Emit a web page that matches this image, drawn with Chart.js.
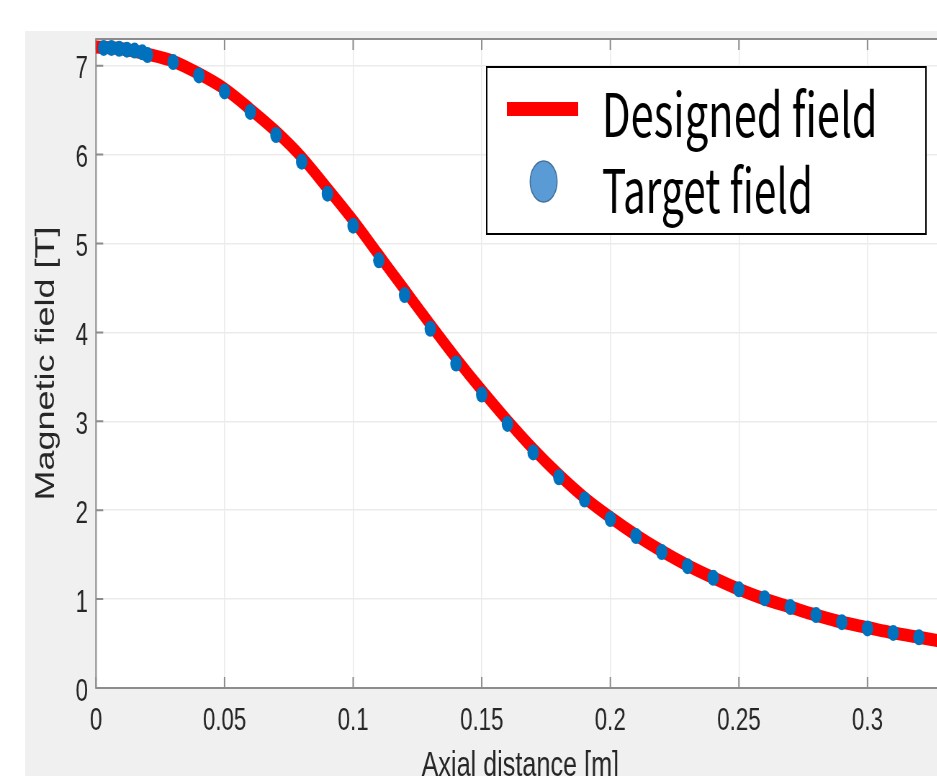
<!DOCTYPE html>
<html>
<head>
<meta charset="utf-8">
<script src="https://cdn.jsdelivr.net/npm/chart.js@4.4.1/dist/chart.umd.min.js"></script>
<style>
  html, body { margin: 0; padding: 0; background: #fff; overflow: hidden; width: 937px; height: 776px; }
  /* the reference figure is squeezed sideways, so the whole canvas is too */
  #wrap { position: absolute; left: 0; top: 0; transform: scaleX(0.72); transform-origin: 0 0; }
  canvas { display: block; }
</style>
</head>
<body>
<div id="wrap"><canvas id="myChart" width="1320" height="800"></canvas></div>
<script>
// designed field (red line)
const designedX = [0, 0.01, 0.02, 0.03, 0.04, 0.05, 0.06, 0.07, 0.08, 0.09, 0.1, 0.11, 0.12, 0.13, 0.14, 0.15, 0.16,
  0.17, 0.18, 0.19, 0.2, 0.21, 0.22, 0.23, 0.24, 0.25, 0.26, 0.27, 0.28, 0.29, 0.3, 0.31, 0.32, 0.33];
const designedB = [7.21, 7.19, 7.13, 7.05, 6.91, 6.74, 6.51, 6.26, 5.97, 5.62, 5.26, 4.87, 4.48, 4.09, 3.71, 3.35, 3.01,
  2.69, 2.40, 2.14, 1.92, 1.72, 1.54, 1.38, 1.24, 1.11, 1.00, 0.91, 0.82, 0.74, 0.68, 0.62, 0.57, 0.52];

// target field (blue markers)
const targetX = [0.003, 0.006, 0.009, 0.012, 0.015, 0.018, 0.02, 0.03, 0.04, 0.05, 0.06, 0.07, 0.08, 0.09, 0.1, 0.11,
  0.12, 0.13, 0.14, 0.15, 0.16, 0.17, 0.18, 0.19, 0.2, 0.21, 0.22, 0.23, 0.24, 0.25, 0.26, 0.27, 0.28, 0.29, 0.3, 0.31, 0.32];
const targetB = [7.20, 7.20, 7.19, 7.18, 7.17, 7.15, 7.12, 7.04, 6.89, 6.71, 6.48, 6.22, 5.92, 5.56, 5.20, 4.81,
  4.42, 4.04, 3.65, 3.30, 2.97, 2.65, 2.37, 2.12, 1.90, 1.71, 1.53, 1.37, 1.24, 1.11, 1.01, 0.91, 0.82, 0.74, 0.67, 0.62, 0.57];

const xTicks = [0, 0.05, 0.1, 0.15, 0.2, 0.25, 0.3];
const xTickLabels = ["0", "0.05", "0.1", "0.15", "0.2", "0.25", "0.3"];
const yTicks = [0, 1, 2, 3, 4, 5, 6, 7];
const yTickLabels = ["0", "1", "2", "3", "4", "5", "6", "7"];

const FONT = "'Liberation Sans', Arial, sans-serif";
const TXT = "#262626";

// grey figure background + white axes, like matlab
const framePlugin = {
  id: "frame",
  beforeDraw(chart) {
    const { ctx, chartArea: a, width, height } = chart;
    ctx.save();
    ctx.fillStyle = "#ffffff";
    ctx.fillRect(0, 0, width, height);
    ctx.fillStyle = "#f0f0f0";
    ctx.fillRect(35, 31, width - 35, height - 31);
    ctx.fillStyle = "#ffffff";
    ctx.fillRect(a.left, a.top, a.right - a.left, a.bottom - a.top);
    ctx.restore();
  },
  beforeDatasetsDraw(chart) {
    const { ctx, chartArea: a, scales } = chart;
    ctx.save();
    ctx.strokeStyle = "#8c8c8c";
    ctx.lineWidth = 2;
    ctx.strokeRect(a.left, a.top, a.right - a.left, a.bottom - a.top);
    // inward ticks
    ctx.beginPath();
    xTicks.forEach((v) => {
      const px = scales.x.getPixelForValue(v);
      ctx.moveTo(px, a.bottom); ctx.lineTo(px, a.bottom - 11);
      ctx.moveTo(px, a.top); ctx.lineTo(px, a.top + 11);
    });
    yTicks.forEach((v) => {
      const py = scales.y.getPixelForValue(v);
      ctx.moveTo(a.left, py); ctx.lineTo(a.left + 10, py);
    });
    ctx.stroke();
    ctx.restore();
  },
};

// boxed legend inside the axes
const boxLegend = {
  id: "boxLegend",
  afterDraw(chart) {
    const ctx = chart.ctx;
    const line = chart.data.datasets[1];
    const pts = chart.data.datasets[0];
    ctx.save();
    ctx.fillStyle = "#ffffff";
    ctx.fillRect(676, 67, 610, 167);
    ctx.strokeStyle = "#000000";
    ctx.lineWidth = 2;
    ctx.strokeRect(676, 67, 610, 167);
    ctx.fillStyle = "#ff0000";
    ctx.fillRect(704, 102, 99, 14);
    ctx.beginPath();
    ctx.ellipse(755, 181.5, 18.7, 20.5, 0, 0, Math.PI * 2);
    ctx.fillStyle = "#5b9bd5";
    ctx.fill();
    ctx.strokeStyle = "#41719c";
    ctx.lineWidth = 1.5;
    ctx.stroke();
    ctx.fillStyle = "#000000";
    ctx.font = "60px 'Noto Sans CJK KR', 'Noto Sans', sans-serif";
    ctx.textBaseline = "alphabetic";
    ctx.fillText(line.label, 836, 137, 383);
    ctx.fillText(pts.label, 836, 213, 293);
    ctx.restore();
  },
};

new Chart(document.getElementById("myChart"), {
  type: "scatter",
  data: {
    datasets: [
      {
        label: "Target field",
        data: targetX.map((x, i) => ({ x: x, y: targetB[i] })),
        showLine: false,
        pointRadius: 8,
        pointHoverRadius: 8,
        pointBorderWidth: 0,
        backgroundColor: "#0072bd",
        order: 0,
      },
      {
        label: "Designed field",
        data: designedX.map((x, i) => ({ x: x, y: designedB[i] })),
        showLine: true,
        borderColor: "#ff0000",
        borderWidth: 13,
        pointRadius: 0,
        cubicInterpolationMode: "monotone",
        order: 1,
      },
    ],
  },
  options: {
    responsive: false,
    animation: false,
    devicePixelRatio: 1,
    layout: { padding: { top: 39, right: 4, left: 0, bottom: 0 } },
    plugins: { legend: { display: false }, tooltip: { enabled: false } },
    scales: {
      x: {
        type: "linear",
        min: 0,
        max: 0.33,
        afterBuildTicks: (scale) => { scale.ticks = xTicks.map((v) => ({ value: v })); },
        afterFit: (scale) => { scale.height = 112; },
        grid: { color: "#ebebeb", lineWidth: 1.5, drawTicks: false },
        border: { display: false },
        ticks: {
          padding: 15,
          color: TXT,
          font: { family: FONT, size: 31 },
          maxRotation: 0,
          callback: (v, i) => xTickLabels[i],
        },
        title: {
          display: true,
          text: "Axial distance [m]",
          color: TXT,
          font: { family: FONT, size: 35 },
          padding: { top: 0, bottom: 13 },
        },
      },
      y: {
        type: "linear",
        min: 0,
        max: 7.3,
        afterBuildTicks: (scale) => { scale.ticks = yTicks.map((v) => ({ value: v })); },
        afterFit: (scale) => { scale.width = 133.3; },
        grid: { color: "#ebebeb", lineWidth: 1.5, drawTicks: false },
        border: { display: false },
        ticks: {
          padding: 11,
          labelOffset: 4,
          color: TXT,
          font: { family: FONT, size: 31 },
          callback: (v, i) => yTickLabels[i],
        },
        title: {
          display: true,
          text: "Magnetic field [T]",
          color: TXT,
          font: { family: FONT, size: 36 },
          padding: { top: 43, bottom: 0 },
        },
      },
    },
  },
  plugins: [framePlugin, boxLegend],
});
</script>
</body>
</html>
